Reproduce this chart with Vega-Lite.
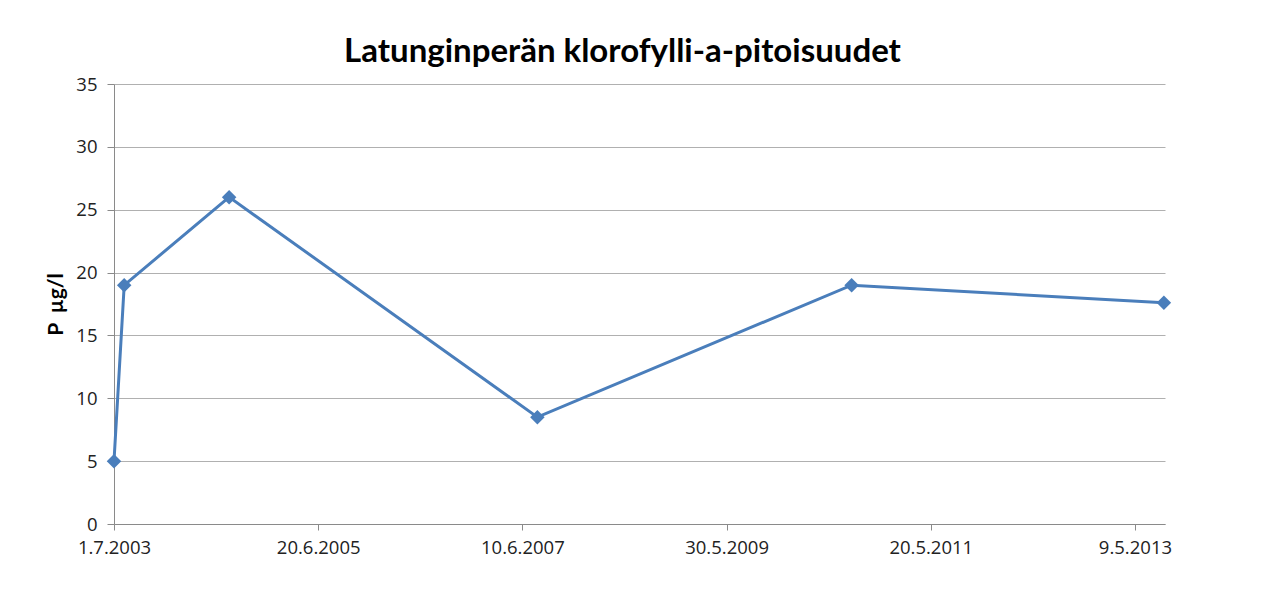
{
  "$schema": "https://vega.github.io/schema/vega-lite/v6.json",
  "width": 1051,
  "height": 440,
  "autosize": {"type": "none"},
  "padding": {"left": 114, "top": 84, "right": 123, "bottom": 66},
  "background": "white",
  "title": {
    "text": "Latunginperän klorofylli-a-pitoisuudet",
    "font": "Lato",
    "fontSize": 33,
    "fontWeight": "bold",
    "color": "black",
    "anchor": "middle",
    "baseline": "alphabetic",
    "offset": -20,
    "dx": -17
  },
  "config": {
    "view": {"stroke": null},
    "axis": {
      "labelFont": "Open Sans",
      "labelFontSize": 18.5,
      "labelColor": "#222222",
      "domainColor": "#8a8a8a",
      "tickColor": "#8a8a8a",
      "gridColor": "#b0b0b0",
      "titleFont": "Lato"
    }
  },
  "data": {
    "values": [
      {"date": "2003-07-01", "value": 5},
      {"date": "2003-08-06", "value": 19},
      {"date": "2004-08-10", "value": 26},
      {"date": "2007-08-02", "value": 8.5},
      {"date": "2010-08-14", "value": 19},
      {"date": "2013-08-19", "value": 17.6}
    ]
  },
  "encoding": {
    "x": {
      "field": "date",
      "type": "temporal",
      "scale": {
        "type": "utc",
        "domain": [
          {"year": 2003, "month": 7, "date": 1, "utc": true},
          {"year": 2013, "month": 8, "date": 23, "utc": true}
        ],
        "nice": false
      },
      "axis": {
        "title": null,
        "grid": false,
        "format": "%-d.%-m.%Y",
        "values": [
          {"year": 2003, "month": 7, "date": 1, "utc": true},
          {"year": 2005, "month": 6, "date": 20, "utc": true},
          {"year": 2007, "month": 6, "date": 10, "utc": true},
          {"year": 2009, "month": 5, "date": 30, "utc": true},
          {"year": 2011, "month": 5, "date": 20, "utc": true},
          {"year": 2013, "month": 5, "date": 9, "utc": true}
        ],
        "tickSize": 6,
        "labelPadding": 8,
        "labelFlush": false,
        "labelOverlap": false
      }
    },
    "y": {
      "field": "value",
      "type": "quantitative",
      "scale": {"domain": [0, 35], "nice": false, "zero": true},
      "axis": {
        "title": "P\u00a0 µg/l",
        "titleFontSize": 21,
        "titleFontWeight": "bold",
        "titleColor": "black",
        "titlePadding": 9,
        "values": [0, 5, 10, 15, 20, 25, 30, 35],
        "tickSize": 7,
        "labelPadding": 10
      }
    }
  },
  "layer": [
    {
      "mark": {"type": "line", "color": "#4a7ebb", "strokeWidth": 3}
    },
    {
      "mark": {"type": "point", "shape": "diamond", "filled": true, "color": "#4a7ebb", "size": 210, "opacity": 1}
    }
  ]
}
